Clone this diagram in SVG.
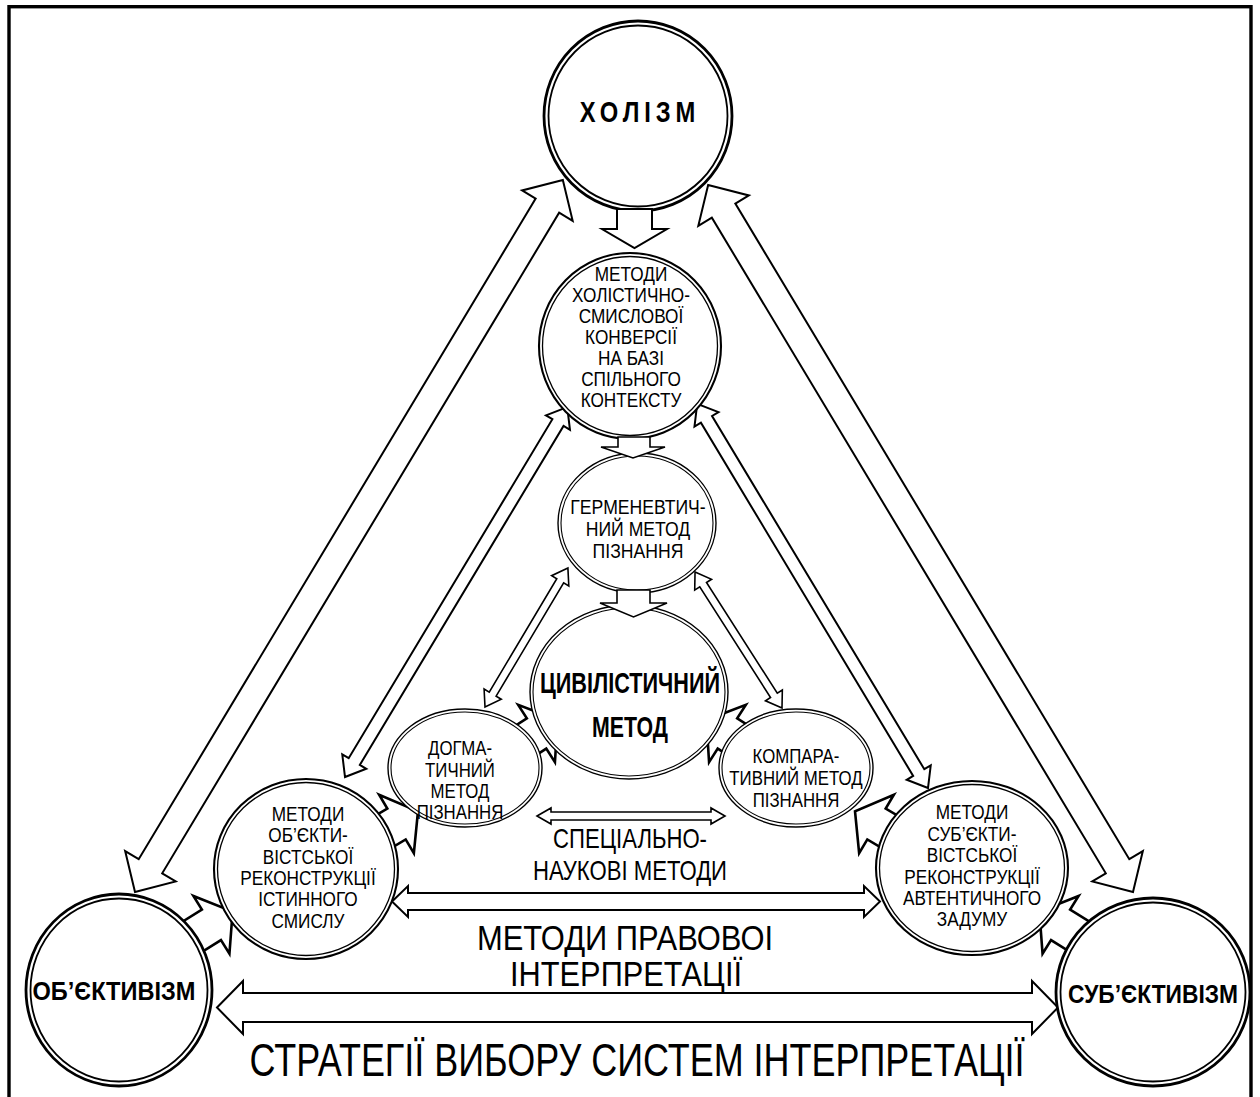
<svg xmlns="http://www.w3.org/2000/svg" width="1260" height="1097" viewBox="0 0 1260 1097">
<style>
.frame{fill:none;stroke:#000;stroke-width:3.4}
.co{fill:#fff;stroke:#000}
.ci{fill:none;stroke:#000}
.big .co{stroke-width:2.8}.big .ci{stroke-width:1.8}
.mid .co{stroke-width:2.1}.mid .ci{stroke-width:1.3}
.sm .co{stroke-width:1.4}.sm .ci{stroke-width:1.1}
.a{fill:#fff;stroke:#000;stroke-width:2;stroke-linejoin:miter}
.a2{fill:#fff;stroke:#000;stroke-width:1.6;stroke-linejoin:miter}
.aj{fill:#fff;stroke:#000;stroke-width:2.6;stroke-linejoin:miter}
text{font-family:"Liberation Sans",Arial,sans-serif;text-anchor:middle;fill:#000}
.t21{font-size:21px}
.t20{font-size:20.5px}
.bd{font-weight:bold}
</style>
<rect class="frame" x="9" y="6.7" width="1242" height="1110"/>

<g id="connectors">
  <polygon class="a" transform="translate(135,892) rotate(-59)" points="0,0 30,-29.5 30,-13.7 800.7,-13.7 800.7,-29.5 830.7,0 800.7,29.5 800.7,13.7 30,13.7 30,29.5"/>
  <polygon class="a" transform="translate(1133,892) rotate(-121)" points="0,0 30,-29.5 30,-13.7 794.9,-13.7 794.9,-29.5 824.9,0 794.9,29.5 794.9,13.7 30,13.7 30,29.5"/>
  <polygon class="a" transform="translate(345,777) rotate(-59)" points="0,0 18,-14 18,-6.5 413.5,-6.5 413.5,-14 431.5,0 413.5,14 413.5,6.5 18,6.5 18,14"/>
  <polygon class="a" transform="translate(928,788) rotate(-121)" points="0,0 18,-14 18,-6.5 430.1,-6.5 430.1,-14 448.1,0 430.1,14 430.1,6.5 18,6.5 18,14"/>
  <polygon class="a2" transform="translate(485,707) rotate(-59.2)" points="0,0 15,-10 15,-4 146.9,-4 146.9,-10 161.9,0 146.9,10 146.9,4 15,4 15,10"/>
  <polygon class="a2" transform="translate(782,708) rotate(-122.6)" points="0,0 15,-10 15,-4 146.4,-4 146.4,-10 161.4,0 146.4,10 146.4,4 15,4 15,10"/>
  <polygon class="a2" points="537,816 551,808 551,812 711,812 711,808 725,816 711,824 711,820 551,820 551,824"/>
  <polygon class="a" points="392,901.5 408,886 408,893 864,893 864,886 880,901.5 864,917 864,910 408,910 408,917"/>
  <polygon class="a" points="217,1007.5 243,981 243,993 1032,993 1032,981 1058,1007.5 1032,1034 1032,1022 243,1022 243,1034"/>
  <polygon class="aj" transform="translate(177.5,946) rotate(-32)" points="0,-18 40,-18 40,-34 65,0 40,34 40,18 0,18"/>
  <polygon class="aj" transform="translate(362.1,844.4) rotate(-30.7)" points="0,-18 40,-18 40,-34 65,0 40,34 40,18 0,18"/>
  <polygon class="aj" transform="translate(502.9,755.1) rotate(-32.7)" points="0,-18 40,-18 40,-34 65,0 40,34 40,18 0,18"/>
  <polygon class="aj" transform="translate(761.1,755.1) rotate(-147.3)" points="0,-18 40,-18 40,-34 65,0 40,34 40,18 0,18"/>
  <polygon class="aj" transform="translate(910.9,844.4) rotate(-149.3)" points="0,-18 40,-18 40,-34 65,0 40,34 40,18 0,18"/>
  <polygon class="aj" transform="translate(1094.5,946) rotate(-148)" points="0,-18 40,-18 40,-34 65,0 40,34 40,18 0,18"/>
</g>

<g id="holism" class="big">
  <ellipse class="co" cx="638" cy="116" rx="94" ry="95"/>
  <ellipse class="ci" cx="638" cy="116" rx="89.5" ry="90.5"/>
  <g transform="translate(640,0) scale(0.82,1)"><text class="bd" x="0" y="122" style="font-size:29px;letter-spacing:6px">ХОЛІЗМ</text></g>
</g>

<g id="holistic-methods" class="mid">
  <ellipse class="co" cx="630" cy="346" rx="91" ry="93"/>
  <ellipse class="ci" cx="630" cy="346" rx="87.5" ry="89.5"/>
  <g class="t21" transform="translate(631,0) scale(0.82,1)">
    <text x="0" y="281.5">МЕТОДИ</text>
    <text x="0" y="302.5">ХОЛІСТИЧНО-</text>
    <text x="0" y="323.5">СМИСЛОВОЇ</text>
    <text x="0" y="344.5">КОНВЕРСІЇ</text>
    <text x="0" y="365.5">НА БАЗІ</text>
    <text x="0" y="386.5">СПІЛЬНОГО</text>
    <text x="0" y="407.5">КОНТЕКСТУ</text>
  </g>
</g>

<g id="hermeneutic" class="sm">
  <ellipse class="co" cx="637" cy="523" rx="79" ry="70"/>
  <ellipse class="ci" cx="637" cy="523" rx="76" ry="67"/>
  <g class="t20" transform="translate(638,0) scale(0.86,1)">
    <text x="0" y="514.5">ГЕРМЕНЕВТИЧ-</text>
    <text x="0" y="536.5">НИЙ МЕТОД</text>
    <text x="0" y="558.5">ПІЗНАННЯ</text>
  </g>
</g>

<g id="civilistic" class="sm">
  <ellipse class="co" cx="629" cy="692" rx="99" ry="87"/>
  <ellipse class="ci" cx="629" cy="692" rx="96" ry="84"/>
  <text class="bd" x="630" y="693" style="font-size:30px" textLength="180" lengthAdjust="spacingAndGlyphs">ЦИВІЛІСТИЧНИЙ</text>
  <text class="bd" x="630" y="737" style="font-size:30px" textLength="76" lengthAdjust="spacingAndGlyphs">МЕТОД</text>
</g>

<g id="dogmatic" class="sm">
  <ellipse class="co" cx="465" cy="768" rx="77" ry="59"/>
  <ellipse class="ci" cx="465" cy="768" rx="74" ry="56"/>
  <g class="t20" transform="translate(460,0) scale(0.82,1)">
    <text x="0" y="755">ДОГМА-</text>
    <text x="0" y="777">ТИЧНИЙ</text>
    <text x="0" y="798">МЕТОД</text>
    <text x="0" y="819">ПІЗНАННЯ</text>
  </g>
</g>

<g id="comparative" class="sm">
  <ellipse class="co" cx="796" cy="768" rx="77" ry="59"/>
  <ellipse class="ci" cx="796" cy="768" rx="74" ry="56"/>
  <g class="t20" transform="translate(796,0) scale(0.82,1)">
    <text x="0" y="763">КОМПАРА-</text>
    <text x="0" y="785">ТИВНИЙ МЕТОД</text>
    <text x="0" y="807">ПІЗНАННЯ</text>
  </g>
</g>

<g id="objectivist-methods" class="mid">
  <ellipse class="co" cx="306" cy="869" rx="92" ry="90"/>
  <ellipse class="ci" cx="306" cy="869" rx="88.5" ry="86.5"/>
  <g class="t20" transform="translate(308,0) scale(0.84,1)">
    <text x="0" y="821">МЕТОДИ</text>
    <text x="0" y="842">ОБ’ЄКТИ-</text>
    <text x="0" y="864">ВІСТСЬКОЇ</text>
    <text x="0" y="885">РЕКОНСТРУКЦІЇ</text>
    <text x="0" y="906">ІСТИННОГО</text>
    <text x="0" y="928">СМИСЛУ</text>
  </g>
</g>

<g id="subjectivist-methods" class="mid">
  <ellipse class="co" cx="972" cy="868" rx="96" ry="87"/>
  <ellipse class="ci" cx="972" cy="868" rx="92.5" ry="83.5"/>
  <g class="t20" transform="translate(972,0) scale(0.84,1)">
    <text x="0" y="819">МЕТОДИ</text>
    <text x="0" y="841">СУБ’ЄКТИ-</text>
    <text x="0" y="862">ВІСТСЬКОЇ</text>
    <text x="0" y="884">РЕКОНСТРУКЦІЇ</text>
    <text x="0" y="905">АВТЕНТИЧНОГО</text>
    <text x="0" y="926">ЗАДУМУ</text>
  </g>
</g>

<g id="objectivism" class="big">
  <ellipse class="co" cx="119" cy="990" rx="93" ry="96"/>
  <ellipse class="ci" cx="119" cy="990" rx="88.5" ry="91.5"/>
  <text class="bd" x="114" y="1000" style="font-size:25px" textLength="163" lengthAdjust="spacingAndGlyphs">ОБ’ЄКТИВІЗМ</text>
</g>

<g id="subjectivism" class="big">
  <ellipse class="co" cx="1153" cy="992" rx="97" ry="94"/>
  <ellipse class="ci" cx="1153" cy="992" rx="92.5" ry="89.5"/>
  <text class="bd" x="1153" y="1003" style="font-size:25px" textLength="170" lengthAdjust="spacingAndGlyphs">СУБ’ЄКТИВІЗМ</text>
</g>

<g id="connectors-top">
  <polygon class="a" points="617,209 652,209 652,229 667,229 634.5,248 602,229 617,229"/>
  <polygon class="a2" points="618,437 650,437 650,447 665,447 633,458 601,447 618,447"/>
  <polygon class="a2" points="617,590 650,590 650,603 667,603 633.5,617 600,603 617,603"/>
</g>

<g id="labels">
  <g style="font-size:27px" transform="translate(630,0) scale(0.82,1)">
    <text x="0" y="848">СПЕЦІАЛЬНО-</text>
    <text x="0" y="880">НАУКОВІ МЕТОДИ</text>
  </g>
  <text x="625" y="950" style="font-size:35px" textLength="296" lengthAdjust="spacingAndGlyphs">МЕТОДИ ПРАВОВОІ</text>
  <text x="626" y="986" style="font-size:35px" textLength="232" lengthAdjust="spacingAndGlyphs">ІНТЕРПРЕТАЦІЇ</text>
  <text x="637" y="1076" style="font-size:46px" textLength="775" lengthAdjust="spacingAndGlyphs">СТРАТЕГІЇ ВИБОРУ СИСТЕМ ІНТЕРПРЕТАЦІЇ</text>
</g>
</svg>
